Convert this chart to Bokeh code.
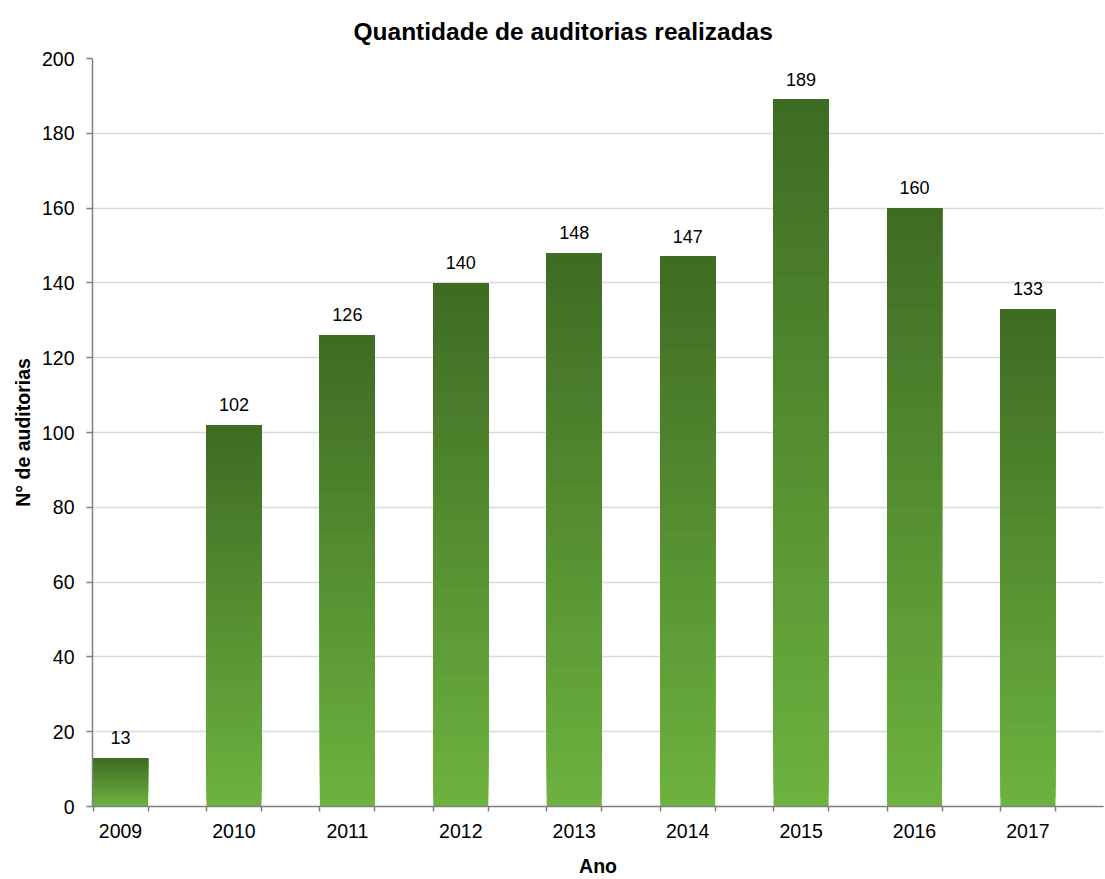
import numpy as np
from bokeh.plotting import figure
from bokeh.models import Range1d, FixedTicker, ColumnDataSource, LabelSet
from bokeh.core.properties import value
from bokeh.embed import file_html
from bokeh.resources import INLINE

years = [2009, 2010, 2011, 2012, 2013, 2014, 2015, 2016, 2017]
counts = [13, 102, 126, 140, 148, 147, 189, 160, 133]
year_labels = ["2009", "2010", "2011", "2012", "2013", "2014", "2015", "2016", "2017"]
y_ticks = [0, 20, 40, 60, 80, 100, 120, 140, 160, 180, 200]

title_text = "Quantidade de auditorias realizadas"
x_title = "Ano"
y_title = "N° de auditorias"

FONT = "Liberation Sans"
BAR_W = 0.485
top_rgb = np.array([0x3e, 0x6b, 0x23])
bot_rgb = np.array([0x6d, 0xb3, 0x3f])
N = 60

p = figure(width=1105, height=879, output_backend="svg", toolbar_location=None,
           x_range=Range1d(2008.753, 2017.666), y_range=Range1d(0, 200),
           min_border_left=92, min_border_right=2, min_border_top=58, min_border_bottom=72)
p.outline_line_color = None
p.background_fill_color = "white"

# gradient bars: nested quads, each from a slice bottom up to the bar top,
# drawn bottom-first so later (darker) ones cover the upper part
lefts, rights, bottoms, tops, colors = [], [], [], [], []
for yr, c in zip(years, counts):
    edges = np.linspace(0, c, N + 1)
    for i in range(N):
        t = (i + 0.5) / N  # 0 bottom -> 1 top
        rgb = bot_rgb + (top_rgb - bot_rgb) * t
        col = "#%02x%02x%02x" % tuple(int(round(v)) for v in rgb)
        lefts.append(yr - BAR_W / 2)
        rights.append(yr + BAR_W / 2)
        bottoms.append(edges[i])
        tops.append(c)
        colors.append(col)
p.quad(left=lefts, right=rights, bottom=bottoms, top=tops, fill_color=colors, line_color=None)

# data labels
src = ColumnDataSource(dict(x=years, y=counts, t=[str(c) for c in counts]))
p.add_layout(LabelSet(x="x", y="y", text="t", source=src, text_align="center",
                      text_baseline="bottom", y_offset=14, text_font=value(FONT),
                      text_font_size="18px", text_color="#000000"))

# title
p.title.text = title_text
p.title.align = "left"
p.title.offset = 261
p.title.text_font = FONT
p.title.text_font_size = "24.5px"
p.title.text_font_style = "bold"
p.title.text_color = "#000000"
p.title.standoff = 28

# x axis
xa = p.xaxis[0]
edges_ticks = sorted([y - BAR_W / 2 for y in years] + [y + BAR_W / 2 for y in years])
xa.ticker = FixedTicker(ticks=years, minor_ticks=edges_ticks)
xa.major_label_overrides = {y: l for y, l in zip(years, year_labels)}
xa.major_tick_line_color = None
xa.major_tick_out = 0
xa.major_tick_in = 0
xa.minor_tick_out = 5
xa.minor_tick_in = 0
xa.minor_tick_line_color = "#7f7f7f"
xa.minor_tick_line_width = 1.5
xa.axis_line_color = "#7f7f7f"
xa.axis_line_width = 1.5
xa.major_label_standoff = 12
xa.major_label_text_font = FONT
xa.major_label_text_font_size = "19.5px"
xa.major_label_text_color = "#000000"
xa.axis_label = x_title
xa.axis_label_text_font = FONT
xa.axis_label_text_font_size = "19.5px"
xa.axis_label_text_font_style = "bold"
xa.axis_label_text_color = "#000000"
xa.axis_label_standoff = 14

# y axis
ya = p.yaxis[0]
ya.ticker = FixedTicker(ticks=y_ticks)
ya.minor_tick_line_color = None
ya.major_tick_out = 6
ya.major_tick_in = 0
ya.major_tick_line_color = "#7f7f7f"
ya.major_tick_line_width = 1.5
ya.axis_line_color = "#7f7f7f"
ya.axis_line_width = 1.5
ya.major_label_standoff = 12
ya.major_label_text_font = FONT
ya.major_label_text_font_size = "19.5px"
ya.major_label_text_color = "#000000"
ya.axis_label = y_title
ya.axis_label_text_font = FONT
ya.axis_label_text_font_size = "19.5px"
ya.axis_label_text_font_style = "bold"
ya.axis_label_text_color = "#000000"
ya.axis_label_standoff = 5

p.xgrid.grid_line_color = None
p.ygrid.ticker = FixedTicker(ticks=y_ticks)
p.ygrid.grid_line_color = "#d9d9d9"
p.ygrid.grid_line_width = 1.5

open("out.html", "w").write(file_html(p, INLINE))
